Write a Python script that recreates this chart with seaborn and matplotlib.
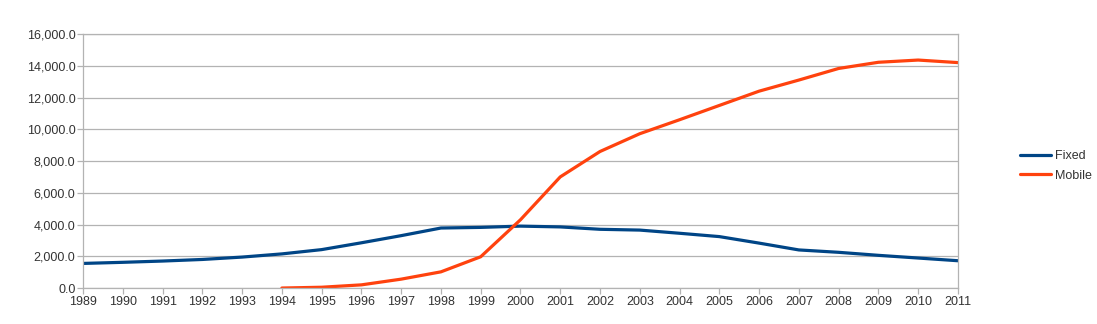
import matplotlib
matplotlib.use("Agg")
import matplotlib.pyplot as plt
import matplotlib.ticker as mticker
import seaborn as sns
import pandas as pd

years = list(range(1989, 2012))
fixed = [1550, 1620, 1700, 1800, 1950, 2150, 2420, 2850, 3300, 3780, 3820, 3900,
         3850, 3700, 3650, 3450, 3240, 2830, 2400, 2250, 2060, 1890, 1720]
mobile_years = list(range(1994, 2012))
mobile = [0, 50, 200, 560, 1020, 1970, 4300, 7000, 8600, 9720, 10600, 11500,
          12400, 13100, 13830, 14220, 14360, 14200]

sns.set_theme(style="white")
plt.rcParams['font.family'] = ['Liberation Sans', 'DejaVu Sans']

df = pd.concat([
    pd.DataFrame({"year": years, "value": fixed, "series": "Fixed"}),
    pd.DataFrame({"year": mobile_years, "value": mobile, "series": "Mobile"}),
])

fig = plt.figure(figsize=(10.97, 3.24), dpi=100)
ax = fig.add_axes([0.0757, 0.111, 0.7975, 0.784])
sns.lineplot(data=df, x="year", y="value", hue="series",
             palette={"Fixed": "#004586", "Mobile": "#ff420e"},
             linewidth=2.3, ax=ax, legend=True)

ax.set_xlim(1989, 2011)
ax.set_ylim(0, 16000)
ax.set_xticks(years)
ax.set_xticklabels([str(y) for y in years])
ax.set_yticks(range(0, 16001, 2000))
ax.yaxis.set_major_formatter(mticker.FuncFormatter(lambda v, p: f"{v:,.1f}"))
ax.grid(axis="y", color="#b3b3b3", linewidth=0.9)
ax.set_axisbelow(True)
for s in ax.spines.values():
    s.set_color("#b3b3b3")
    s.set_linewidth(0.9)
ax.tick_params(axis="both", which="major", length=4, width=0.9, color="#b3b3b3",
               labelsize=9, labelcolor="#333333", pad=1.5, direction="out")
ax.tick_params(axis="x", bottom=True)
ax.tick_params(axis="y", left=True)
ax.set_xlabel("")
ax.set_ylabel("")

h, l = ax.get_legend_handles_labels()
ax.legend(h, l, loc="center left", bbox_to_anchor=(1.071, 0.48), frameon=False,
          fontsize=9, handlelength=2.5, handletextpad=0.3, labelspacing=0.6,
          labelcolor="#333333", borderaxespad=0, borderpad=0)

fig.savefig("out.png", dpi=100)
